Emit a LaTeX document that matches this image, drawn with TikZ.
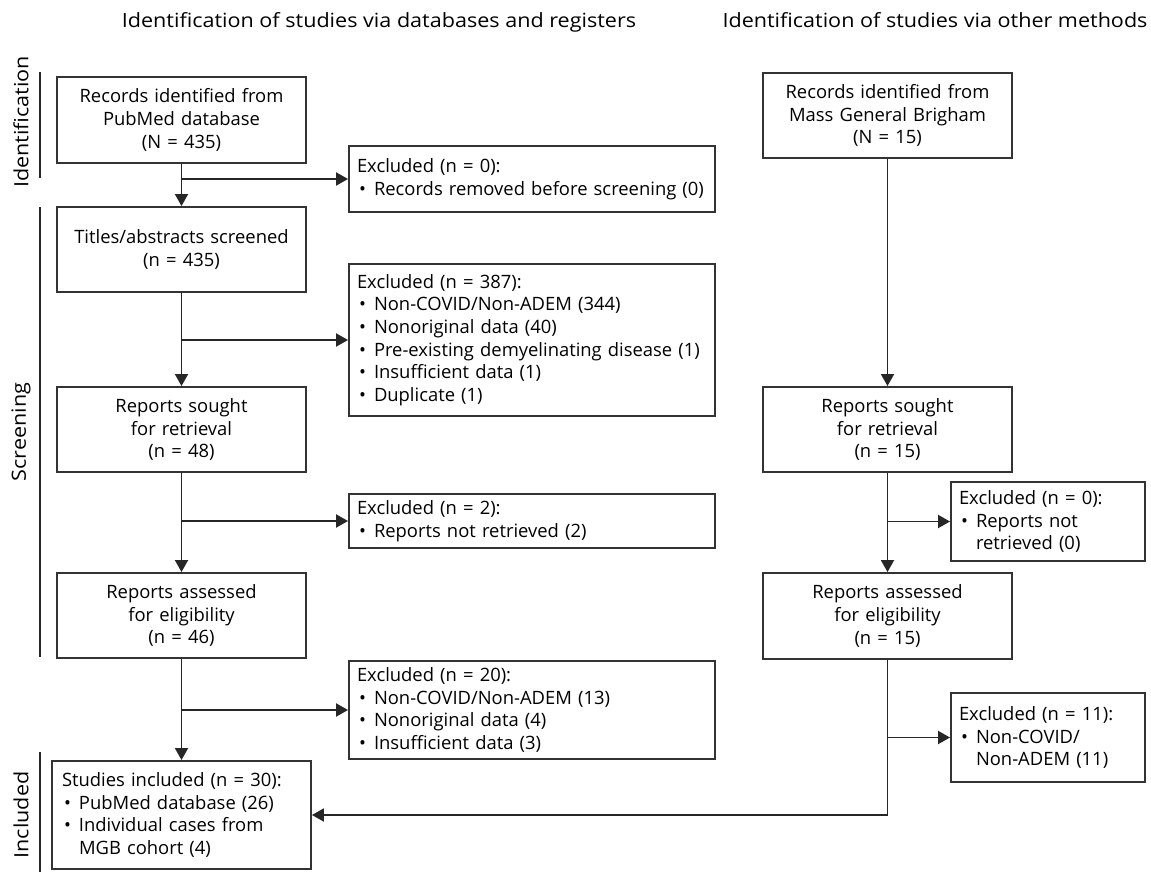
\documentclass[tikz,border=0pt]{standalone}
\usepackage{fontspec}
\setmainfont{Open Sans}
\newfontfamily\headfont[FakeStretch=1.1]{Open Sans}
\usetikzlibrary{arrows.meta}
\newcommand\fsz{\fontsize{18.4}{22.6}\selectfont}
\newcommand\hsz{\headfont\fontsize{19.6}{24}\selectfont}
\newcommand\bitem[1]{\makebox[17pt][l]{\hspace{2pt}•}#1}
\newcommand\bindent{\hspace*{17pt}}
\begin{document}
\begin{tikzpicture}[x=1pt,y=-1pt,
  box/.style={draw=black!80, line width=1.9pt, font=\fsz, inner xsep=8pt, inner ysep=0pt},
  mainbox/.style={box, align=center, text width=233pt},
  exbox/.style={box, align=left},
  arr/.style={line width=1.9pt, draw=black!85, -{Triangle[length=12pt,width=13pt]}},
  bar/.style={line width=2pt, draw=black!85},
  side/.style={font=\hsz, rotate=90},
  head/.style={font=\hsz}]
\useasboundingbox (0,0) rectangle (1151,872);

% headings
\node[head] (h1) at (379,22) {Identification of studies via databases and registers};
\node[head] (h2) at (935,20) {Identification of studies via other methods};

% side bars and labels
\draw[bar] (40,72) -- (40,178);
\draw[bar] (40,207) -- (40,657);
\draw[bar] (40,752) -- (40,872);
\node[side] (lid) at (21,122) {Identification};
\node[side] (lsc) at (21,432) {Screening};
\node[side] (lin) at (21,815) {Included};

% left column
\node[mainbox, minimum height=86pt] (b1) at (181.5,120) {Records identified from\\PubMed database\\(N = 435)};
\node[mainbox, minimum height=85pt] (b2) at (181.5,249.5) {Titles/abstracts screened\\(n = 435)};
\node[mainbox, minimum height=85pt] (b3) at (181.5,429.5) {Reports sought\\for retrieval\\(n = 48)};
\node[mainbox, minimum height=85pt] (b4) at (181.5,615.5) {Reports assessed\\for eligibility\\(n = 46)};
\node[exbox, inner xsep=10pt, text width=239pt, minimum height=108pt] (b5) at (181.5,815) {Studies included (n = 30):\\\bitem{PubMed database (26)}\\\bitem{Individual cases from}\\\bindent MGB cohort (4)};

\node[exbox, text width=350pt, minimum height=66pt] (e1) at (532,179) {Excluded (n = 0):\\\bitem{Records removed before screening (0)}};
\node[exbox, text width=350pt, minimum height=152pt] (e2) at (532,340) {Excluded (n = 387):\\\bitem{Non-COVID/Non-ADEM (344)}\\\bitem{Nonoriginal data (40)}\\\bitem{Pre-existing demyelinating disease (1)}\\\bitem{Insufficient data (1)}\\\bitem{Duplicate (1)}};
\node[exbox, text width=350pt, minimum height=54pt] (e3) at (532,521) {Excluded (n = 2):\\\bitem{Reports not retrieved (2)}};
\node[exbox, text width=350pt, minimum height=98pt] (e4) at (532,710) {Excluded (n = 20):\\\bitem{Non-COVID/Non-ADEM (13)}\\\bitem{Nonoriginal data (4)}\\\bitem{Insufficient data (3)}};

% right column
\node[mainbox, minimum height=85pt] (r1) at (887.5,115.5) {Records identified from\\Mass General Brigham\\(N = 15)};
\node[mainbox, minimum height=85pt] (r2) at (887.5,429.5) {Reports sought\\for retrieval\\(n = 15)};
\node[mainbox, minimum height=86pt] (r3) at (887.5,616) {Reports assessed\\for eligibility\\(n = 15)};
\node[exbox, text width=178pt, minimum height=79pt] (re1) at (1048,521.5) {Excluded (n = 0):\\\bitem{Reports not}\\\bindent retrieved (0)};
\node[exbox, text width=178pt, minimum height=89pt] (re2) at (1048,737.5) {Excluded (n = 11):\\\bitem{Non-COVID/}\\\bindent Non-ADEM (11)};

% connectors left
\draw[arr] (b1.south) -- (b2.north);
\draw[arr] (b1.south |- e1.west) -- (e1.west);
\draw[arr] (b2.south) -- (b3.north);
\draw[arr] (b2.south |- e2.west) -- (e2.west);
\draw[arr] (b3.south) -- (b4.north);
\draw[arr] (b3.south |- e3.west) -- (e3.west);
\draw[arr] (b4.south) -- (b5.north);
\draw[arr] (b4.south |- e4.west) -- (e4.west);

% connectors right
\draw[arr] (r1.south) -- (r2.north);
\draw[arr] (r2.south) -- (r3.north);
\draw[arr] (r2.south |- re1.west) -- (re1.west);
\draw[arr] (r3.south |- re2.west) -- (re2.west);
\draw[arr] (r3.south) |- (b5.east);
\end{tikzpicture}
\end{document}
